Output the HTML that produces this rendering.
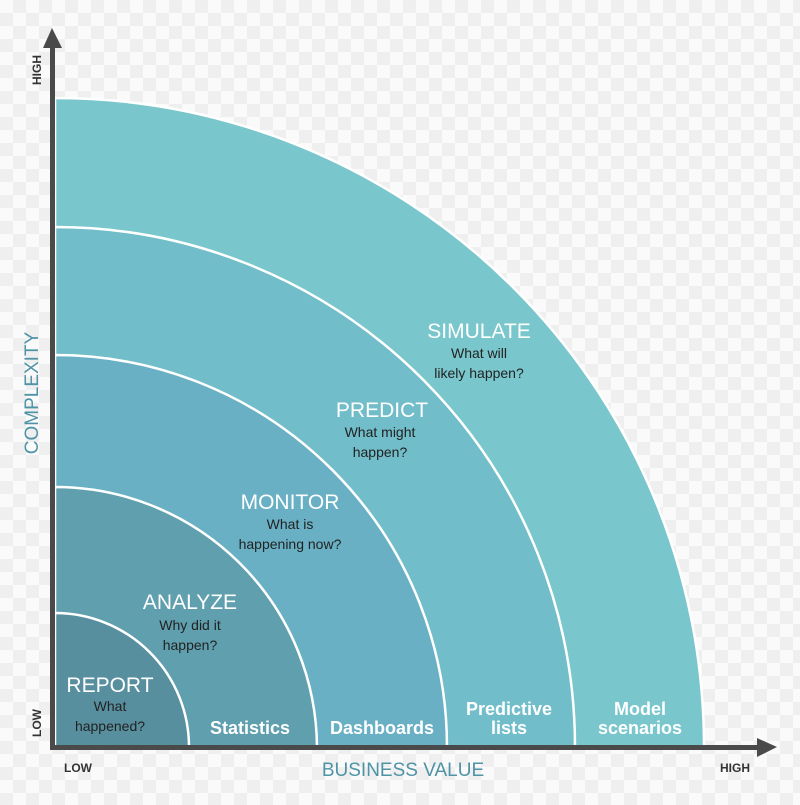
<!DOCTYPE html>
<html><head><style>
body{margin:0;width:800px;height:800px;overflow:hidden;background-color:#fafafa;
background-image:linear-gradient(45deg,#efefef 25%,transparent 25%,transparent 75%,#efefef 75%),linear-gradient(45deg,#efefef 25%,transparent 25%,transparent 75%,#efefef 75%);
background-size:26px 26px;background-position:0 0,13px 13px;}
text{font-family:"Liberation Sans",sans-serif;}
</style></head><body>
<svg width="800" height="800" viewBox="0 0 800 800">
<g stroke="#fff" stroke-width="2.5">
<path d="M55 747 L55 98 A649 649 0 0 1 704 747 Z" fill="#79c7cc"/>
<path d="M55 747 L55 227 A520 520 0 0 1 575 747 Z" fill="#71bdc9"/>
<path d="M55 747 L55 355 A392 392 0 0 1 447 747 Z" fill="#69b0c5"/>
<path d="M55 747 L55 487 A262 262 0 0 1 317 747 Z" fill="#5f9fae"/>
<path d="M55 747 L55 613 A134 134 0 0 1 189 747 Z" fill="#578f9f"/>
</g>
<rect x="50" y="40" width="5" height="710" fill="#4a4a4a"/>
<polygon points="52,28 43,48 62,48" fill="#4a4a4a"/>
<rect x="50" y="745" width="715" height="5" fill="#4a4a4a"/>
<polygon points="777,747 757,738 757,757" fill="#4a4a4a"/>
<g fill="#fff" text-anchor="middle" font-size="21">
<text x="110" y="692">REPORT</text>
<text x="190" y="609">ANALYZE</text>
<text x="290" y="509">MONITOR</text>
<text x="382" y="417">PREDICT</text>
<text x="479" y="338">SIMULATE</text>
</g>
<g fill="#222" text-anchor="middle" font-size="14">
<text x="110" y="711">What</text><text x="110" y="731">happened?</text>
<text x="190" y="630">Why did it</text><text x="190" y="650">happen?</text>
<text x="290" y="529">What is</text><text x="290" y="549">happening now?</text>
<text x="380" y="437">What might</text><text x="380" y="457">happen?</text>
<text x="479" y="358">What will</text><text x="479" y="378">likely happen?</text>
</g>
<g fill="#fff" text-anchor="middle" font-size="18" font-weight="bold">
<text x="250" y="734">Statistics</text>
<text x="382" y="734">Dashboards</text>
<text x="509" y="715">Predictive</text><text x="509" y="734">lists</text>
<text x="640" y="715">Model</text><text x="640" y="734">scenarios</text>
</g>
<g fill="#333" font-size="12" font-weight="bold">
<text x="64" y="772">LOW</text>
<text x="720" y="772">HIGH</text>
<text transform="translate(41,85) rotate(-90)">HIGH</text>
<text transform="translate(41,737) rotate(-90)">LOW</text>
</g>
<text x="403" y="776" text-anchor="middle" font-size="19" fill="#4f93a6">BUSINESS VALUE</text>
<text transform="translate(38,393) rotate(-90)" text-anchor="middle" font-size="19" fill="#4f93a6">COMPLEXITY</text>
</svg>
</body></html>
